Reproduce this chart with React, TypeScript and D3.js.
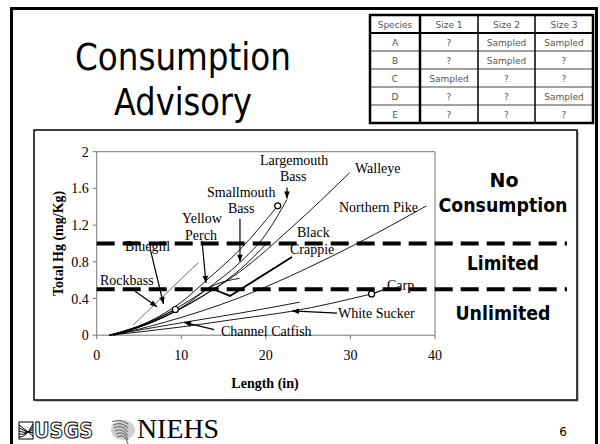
import * as d3 from 'd3';

// axis ticks
const xTicks = [0, 10, 20, 30, 40];
const yTicks = [0, 0.4, 0.8, 1.2, 1.6, 2];

// advisory thresholds (mg/Kg) and zone names
const advisoryLevels = [1.0, 0.5];
const zoneNames = ['No', 'Consumption', 'Limited', 'Unlimited'];

// sampling table
const tableHeader = ['Species', 'Size 1', 'Size 2', 'Size 3'];
const tableSpecies = ['A', 'B', 'C', 'D', 'E'];
const tableSize1 = ['?', '?', 'Sampled', '?', '?'];
const tableSize2 = ['Sampled', 'Sampled', '?', '?', '?'];
const tableSize3 = ['Sampled', '?', '?', 'Sampled', '?'];

// Hg vs length curves: [length in, Hg mg/Kg]
type Pt = [number, number];
const smallmouthBass: Pt[] = [[1.5, 0], [6, 0.14], [10, 0.36], [13, 0.6], [16.9, 0.93], [21.4, 1.41]];
const largemouthBass: Pt[] = [[1.5, 0], [6, 0.12], [10, 0.3], [13, 0.5], [16.9, 0.79], [20, 1.1], [22.5, 1.48]];
const walleye: Pt[] = [[2, 0], [7, 0.16], [12, 0.4], [16.9, 0.69], [23, 1.17], [29.9, 1.77]];
const yellowPerch: Pt[] = [[2, 0], [7, 0.17], [11, 0.38], [14, 0.55], [16.9, 0.62]];
const blackCrappie: Pt[] = [[2, 0], [8, 0.2], [13.8, 0.5], [17, 0.72], [20.3, 1.02]];
const northernPike: Pt[] = [[2, 0], [8, 0.14], [16.9, 0.41], [23, 0.65], [30.8, 1.0], [39, 1.41]];
const channelCatfish: Pt[] = [[1.5, 0], [10.3, 0.14], [16.9, 0.24], [24, 0.36]];
const whiteSucker: Pt[] = [[1.5, 0], [10, 0.09], [16.9, 0.18], [23, 0.26], [32.5, 0.45]];
const bluegill: Pt[] = [[1.5, 0], [5, 0.1], [9.3, 0.28]];
const rockbass: Pt[] = [[4.3, 0.11], [12, 0.79]];
const sampleMarks: Pt[] = [[9.3, 0.28], [21.4, 1.41], [32.5, 0.45]];

const curves = [smallmouthBass, largemouthBass, walleye, yellowPerch, blackCrappie,
  northernPike, channelCatfish, whiteSucker, bluegill];

// labels (pixel placement) and their pointers (data coords)
const labels = [
  { t: 'Largemouth', x: 260, y: 165 }, { t: 'Bass', x: 280, y: 181 },
  { t: 'Smallmouth', x: 207, y: 197 }, { t: 'Bass', x: 228, y: 213 },
  { t: 'Walleye', x: 355, y: 173 }, { t: 'Northern Pike', x: 339, y: 212 },
  { t: 'Black', x: 297, y: 237 }, { t: 'Crappie', x: 290, y: 254 },
  { t: 'Yellow', x: 182, y: 223 }, { t: 'Perch', x: 185, y: 240 },
  { t: 'Bluegill', x: 125, y: 251 }, { t: 'Rockbass', x: 100, y: 285 },
  { t: 'Channel Catfish', x: 221, y: 336 }, { t: 'White Sucker', x: 338, y: 318 },
  { t: 'Carp', x: 387, y: 290 },
];
const pointers: Pt[][] = [
  [[22.5, 1.61], [22.5, 1.49]],
  [[16.94, 1.27], [16.94, 0.8]],
  [[12.45, 1.03], [12.92, 0.57]],
  [[6.3, 0.95], [7.9, 0.34]],
  [[4.53, 0.48], [7.13, 0.31]],
  [[13.89, 0.06], [10.32, 0.14]],
  [[28.41, 0.24], [23.09, 0.265]],
];
const crappiePointer: Pt[] = [[23.09, 0.853], [15.76, 0.428], [13.75, 0.504]];
const carpLeader: Pt[] = [[32.55, 0.45], [34.5, 0.514]];

const serif = '"Liberation Serif", "Times New Roman", serif';
const sans = '"DejaVu Sans", Verdana, sans-serif';

export default function App() {
  const x = d3.scaleLinear().domain([0, 40]).range([96.7, 435]);
  const y = d3.scaleLinear().domain([0, 2]).range([335.2, 151.7]);
  const curve = d3.line<Pt>().x(d => x(d[0])).y(d => y(d[1])).curve(d3.curveMonotoneX);
  const straight = d3.line<Pt>().x(d => x(d[0])).y(d => y(d[1]));

  const colX = [370, 420, 478, 535, 593];
  const rowY = d3.range(7).map(i => 15 + i * 18);
  const cols = [tableSpecies, tableSize1, tableSize2, tableSize3];

  return (
    <div style={{ position: 'absolute', left: 0, top: 0 }}>
      <svg width={600} height={444} style={{ display: 'block', background: '#fff' }}>
        <defs>
          <marker id="arr" viewBox="0 0 10 10" refX="10" refY="5" markerWidth="8" markerHeight="7"
            markerUnits="userSpaceOnUse" orient="auto">
            <path d="M0,1 L10,5 L0,9 z" fill="#000" />
          </marker>
        </defs>

        {/* slide frame */}
        <rect x={11.5} y={8.5} width={585} height={480} fill="none" stroke="#000" strokeWidth={3} />

        {/* title */}
        <text x={75} y={70} fontFamily={sans} fontSize={37} textLength={216} lengthAdjust="spacingAndGlyphs">Consumption</text>
        <text x={114} y={115} fontFamily={sans} fontSize={37} textLength={138} lengthAdjust="spacingAndGlyphs">Advisory</text>

        {/* table */}
        <g>
          {rowY.slice(1, -1).map((ry, i) => (
            <line key={'r' + i} x1={colX[0]} x2={colX[4]} y1={ry} y2={ry}
              stroke={i === 0 ? '#000' : '#444'} strokeWidth={i === 0 ? 2 : 1} />
          ))}
          {colX.slice(1, -1).map((cx, i) => (
            <line key={'c' + i} x1={cx} x2={cx} y1={rowY[0]} y2={rowY[6]}
              stroke="#000" strokeWidth={i === 0 ? 2.5 : 1.5} />
          ))}
          <rect x={colX[0]} y={rowY[0]} width={colX[4] - colX[0]} height={rowY[6] - rowY[0]}
            fill="none" stroke="#000" strokeWidth={2.5} />
          {tableHeader.map((h, i) => (
            <text key={'h' + i} x={(colX[i] + colX[i + 1]) / 2} y={rowY[0] + 12.5} textAnchor="middle"
              fontFamily={sans} fontSize={9} fill="#555">{h}</text>
          ))}
          {cols.map((col, ci) => col.map((v, ri) => (
            <text key={ci + '-' + ri} x={(colX[ci] + colX[ci + 1]) / 2} y={rowY[ri + 1] + 12.5}
              textAnchor="middle" fontFamily={sans} fontSize={9} fill="#555">{v}</text>
          )))}
        </g>

        {/* chart panel */}
        <rect x={36} y={132} width={543} height={270} fill="#c8c8c8" />
        <rect x={34} y={130} width={543} height={270} fill="#fff" stroke="#000" strokeWidth={1.5} />

        {/* plot frame and axes */}
        <line x1={x(0)} x2={x(40)} y1={y(2)} y2={y(2)} stroke="#777" />
        <line x1={x(40)} x2={x(40)} y1={y(2)} y2={y(0)} stroke="#777" />
        <line x1={x(0)} x2={x(40)} y1={y(0)} y2={y(0)} stroke="#777" />
        <line x1={x(0)} x2={x(0)} y1={y(2)} y2={y(0)} stroke="#777" />
        {xTicks.map(t => (
          <g key={'xt' + t}>
            <line x1={x(t)} x2={x(t)} y1={y(0)} y2={y(0) + 4} stroke="#777" />
            <text x={x(t)} y={y(0) + 25} textAnchor="middle" fontFamily={serif} fontSize={14}>{t}</text>
          </g>
        ))}
        {yTicks.map(t => (
          <g key={'yt' + t}>
            <line x1={x(0) - 4} x2={x(0)} y1={y(t)} y2={y(t)} stroke="#777" />
            <text x={x(0) - 8} y={y(t) + 5} textAnchor="end" fontFamily={serif} fontSize={14}>{t}</text>
          </g>
        ))}
        <text x={265} y={388} textAnchor="middle" fontFamily={serif} fontSize={14} fontWeight="bold">Length (in)</text>
        <text transform={`translate(63,${y(1)}) rotate(-90)`} textAnchor="middle" fontFamily={serif}
          fontSize={14} fontWeight="bold">Total Hg (mg/Kg)</text>

        {/* species curves */}
        {curves.map((c, i) => (
          <path key={'cv' + i} d={curve(c) || ''} fill="none" stroke="#000" strokeWidth={0.9} />
        ))}
        <path d={straight(rockbass) || ''} fill="none" stroke="#333" strokeWidth={0.7} />

        {/* pointers */}
        {pointers.map((p, i) => (
          <path key={'pt' + i} d={straight(p) || ''} fill="none" stroke="#000" strokeWidth={1.2} markerEnd="url(#arr)" />
        ))}
        <path d={straight(crappiePointer) || ''} fill="none" stroke="#000" strokeWidth={1.8} />
        <path d={straight(carpLeader) || ''} fill="none" stroke="#000" strokeWidth={1.2} />

        {sampleMarks.map((m, i) => (
          <circle key={'m' + i} cx={x(m[0])} cy={y(m[1])} r={3} fill="#fff" stroke="#000" strokeWidth={1.2} />
        ))}

        {labels.map((l, i) => (
          <text key={'l' + i} x={l.x} y={l.y} fontFamily={serif} fontSize={14}>{l.t}</text>
        ))}

        {/* advisory thresholds */}
        {advisoryLevels.map(v => (
          <line key={'a' + v} x1={x(0)} x2={567} y1={y(v)} y2={y(v)} stroke="#000" strokeWidth={4}
            strokeDasharray="18 8" />
        ))}

        {/* zone labels */}
        <g fontFamily={sans} fontWeight="bold" fontSize={19} textAnchor="middle">
          <text x={504} y={187}>{zoneNames[0]}</text>
          <text x={503} y={212} textLength={129} lengthAdjust="spacingAndGlyphs">{zoneNames[1]}</text>
          <text x={503} y={270} textLength={72} lengthAdjust="spacingAndGlyphs">{zoneNames[2]}</text>
          <text x={503} y={320} textLength={95} lengthAdjust="spacingAndGlyphs">{zoneNames[3]}</text>
        </g>

        {/* footer logos */}
        <g>
          <rect x={19} y={422} width={14} height={17} fill="#fff" stroke="#000" strokeWidth={1} />
          {d3.range(5).map(i => (
            <path key={'w' + i} d={`M19,${425 + i * 3} Q26,${430 + i * 2} 33,${436 - i * 3}`} fill="none" stroke="#000" strokeWidth={1} />
          ))}
          <text x={34} y={438} fontFamily='"DejaVu Sans Condensed", "DejaVu Sans", sans-serif' fontWeight="bold"
            fontSize={22} fill="#fff" stroke="#000" strokeWidth={1} textLength={59} lengthAdjust="spacingAndGlyphs">USGS</text>
        </g>
        <g>
          <ellipse cx={123} cy={430} rx={12} ry={10} fill="#bbb" opacity={0.7} />
          {d3.range(6).map(i => (
            <path key={'n' + i} d={`M${112 + i},${422 + i * 3} q8,-4 ${16 - i},${2 + i}`} fill="none" stroke="#777" strokeWidth={1.2} />
          ))}
          <text x={137} y={438} fontFamily={serif} fontSize={28} textLength={82} lengthAdjust="spacingAndGlyphs">NIEHS</text>
        </g>
        <text x={563} y={436} textAnchor="middle" fontFamily={sans} fontSize={12}>6</text>
      </svg>
    </div>
  );
}
